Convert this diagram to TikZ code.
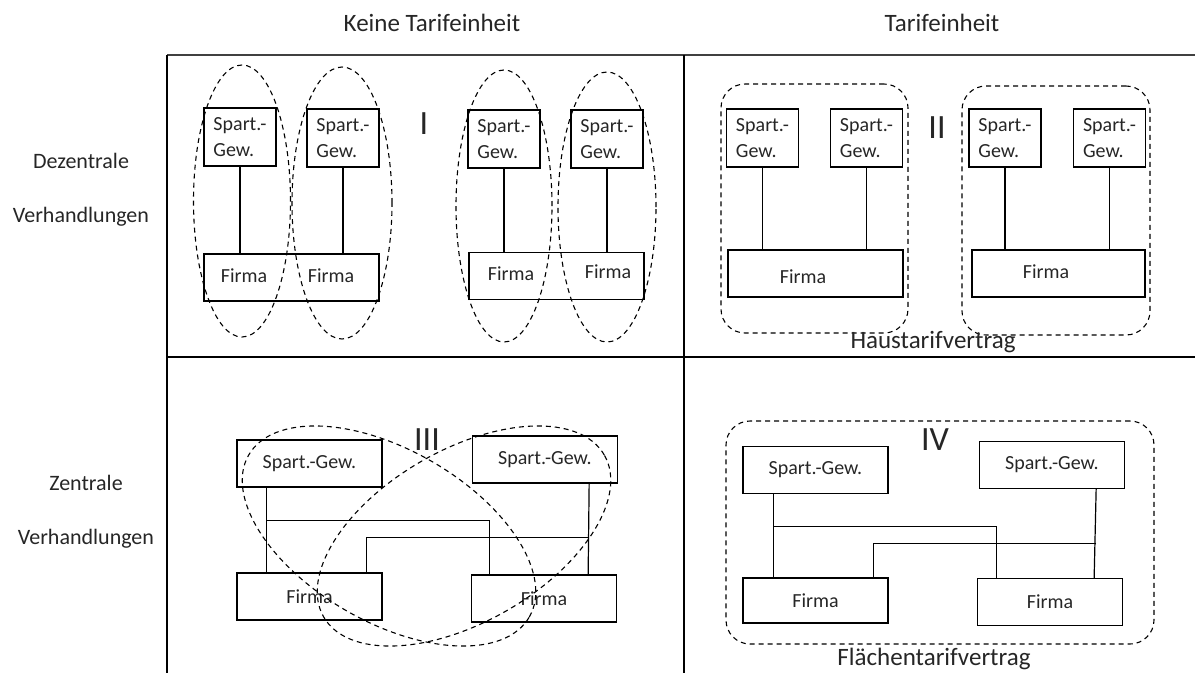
\documentclass[tikz,border=0pt]{standalone}
\usepackage{fontspec}
\setmainfont{Carlito}
\usetikzlibrary{shapes.geometric}
\tikzset{gew/.style={draw,line width=1.3pt,minimum width=72pt,minimum height=58pt,inner sep=0pt,align=left,font=\fontsize{20}{26}\selectfont},
         gewwide/.style={draw,line width=1.3pt,minimum width=145pt,minimum height=47pt,inner sep=0pt,font=\fontsize{20}{24}\selectfont},
         firma/.style={draw,line width=1.3pt,minimum width=175pt,minimum height=47pt,inner sep=0pt},
         txt/.style={font=\fontsize{20}{24}\selectfont},
         link/.style={line width=1.2pt},
         oval/.style={ellipse,draw,line width=1.1pt,inner sep=0pt,dash pattern=on 5pt off 4pt},
         grp/.style={draw,rounded corners=24pt,line width=1.1pt,inner sep=0pt,dash pattern=on 5pt off 4pt},
         roman/.style={font=\fontsize{34}{34}\selectfont},
         head/.style={font=\fontsize{25}{25}\selectfont},
         side/.style={font=\fontsize{22}{22}\selectfont}}

\begin{document}
\begin{tikzpicture}[x=1pt,y=-1pt,every node/.append style={text=black!85}]
        \useasboundingbox (0,0) rectangle (1195,673);

        % table frame
        \draw[line width=2.5pt,black!75](167,55)--(1195,55);
        \draw[line width=2.5pt](167,357)--(1195,357);
        \draw[line width=1.5pt](167,55)--(167,673);
        \draw[line width=1.5pt](684,55)--(684,673);

        \node[head,anchor=base](h1)at(432,31){Keine Tarifeinheit};
        \node[head,anchor=base](h2)at(942,31){Tarifeinheit};
        \node[side,anchor=base](s1)at(81,168){Dezentrale};
        \node[side,anchor=base](s2)at(81,222){Verhandlungen};
        \node[side,anchor=base](s3)at(86,490){Zentrale};
        \node[side,anchor=base](s4)at(86,544){Verhandlungen};

        % I
        \node[gew](g1)at(240,137){Spart.-\\Gew.};
        \node[gew](g2)at(343,138){Spart.-\\Gew.};
        \node[firma](f1)at(291.5,277.5){};
        \node[txt](f1a)at(244,276){Firma};
        \node[txt](f1b)at(331,276){Firma};
        \draw[link](g1.south)--(g1.south |- f1.north);
        \draw[link](g2.south)--(g2.south |- f1.north);
        \node[oval,minimum width=97pt,minimum height=272pt](e1)at(242,201){};
        \node[oval,minimum width=100pt,minimum height=272pt](e2)at(342,203){};

        \node[roman](n1)at(424,124){I};

        \node[gew](g3)at(504,139){Spart.-\\Gew.};
        \node[gew](g4)at(607,139){Spart.-\\Gew.};
        \node[firma](f2)at(556.5,276){};
        \node[txt](f2a)at(511,274){Firma};
        \node[txt](f2b)at(608,272){Firma};
        \draw[link](g3.south)--(g3.south |- f2.north);
        \draw[link](g4.south)--(g4.south |- f2.north);
        \node[oval,minimum width=96pt,minimum height=272pt](e3)at(504,206){};
        \node[oval,minimum width=98pt,minimum height=270pt](e4)at(607,207){};

        % II
        \node[grp,minimum width=187pt,minimum height=249pt](r1)at(814.5,208.5){};
        \node[gew](g5)at(762.5,138){Spart.-\\Gew.};
        \node[gew](g6)at(866.5,138){Spart.-\\Gew.};
        \node[firma](f3)at(815.5,273.5){};
        \node[txt](f3a)at(803,277){Firma};
        \draw[link](g5.south)--(g5.south |- f3.north);
        \draw[link](g6.south)--(g6.south |- f3.north);

        \node[roman](n2)at(937,128){II};

        \node[grp,minimum width=188pt,minimum height=249pt](r2)at(1056,210.5){};
        \node[gew](g7)at(1005,138){Spart.-\\Gew.};
        \node[gew](g8)at(1109.5,138){Spart.-\\Gew.};
        \node[firma,minimum width=173pt](f4)at(1058.5,273.5){};
        \node[txt](f4a)at(1046,272){Firma};
        \draw[link](g7.south)--(g7.south |- f4.north);
        \draw[link](g8.south)--(g8.south |- f4.north);

        \node[head,anchor=base](l1)at(933,348){Haustarifvertrag};

        % III
        \node[gewwide](g9)at(309.5,463.5){Spart.-Gew.};
        \node[gewwide](g10)at(545,459.5){Spart.-Gew.};
        \node[gewwide](f5)at(309.5,596.5){Firma};
        \node[gewwide](f6)at(544,598.5){Firma};
        \draw[link]([xshift=30pt]g9.south west)--([xshift=30pt]f5.north west);
        \draw[link]([xshift=30pt]g9.south west)++(0,33)-|([xshift=19pt]f6.north west);
        \draw[link]([xshift=-29pt]g10.south east)--([xshift=-29pt]f6.north east);
        \draw[link]([xshift=-29pt]g10.south east)++(0,54)-|([xshift=-16pt]f5.north east);
        \node[oval,rotate=-30,minimum width=324pt,minimum height=172pt](e5)at(389,536){};
        \node[oval,rotate=30,minimum width=324pt,minimum height=172pt](e6)at(464,536){};

        \node[roman](n3)at(427,440){III};

        % IV
        \node[grp,minimum width=428pt,minimum height=223pt](r3)at(940,532.5){};
        \node[gewwide](g11)at(815.5,470){Spart.-Gew.};
        \node[gewwide](g12)at(1052,465){Spart.-Gew.};
        \node[gewwide,minimum height=45pt](f7)at(815.5,600.5){Firma};
        \node[gewwide](f8)at(1050,602){Firma};
        \draw[link]([xshift=31pt]g11.south west)--([xshift=31pt]f7.north west);
        \draw[link]([xshift=31pt]g11.south west)++(0,32)-|([xshift=20pt]f8.north west);
        \draw[link]([xshift=-29pt]g12.south east)--([xshift=-29pt]f8.north east);
        \draw[link]([xshift=-29pt]g12.south east)++(0,54)-|([xshift=-15pt]f7.north east);

        \node[roman](n4)at(935,440){IV};

        \node[head,anchor=base](l2)at(934,665){Flächentarifvertrag};
\end{tikzpicture}
\end{document}
